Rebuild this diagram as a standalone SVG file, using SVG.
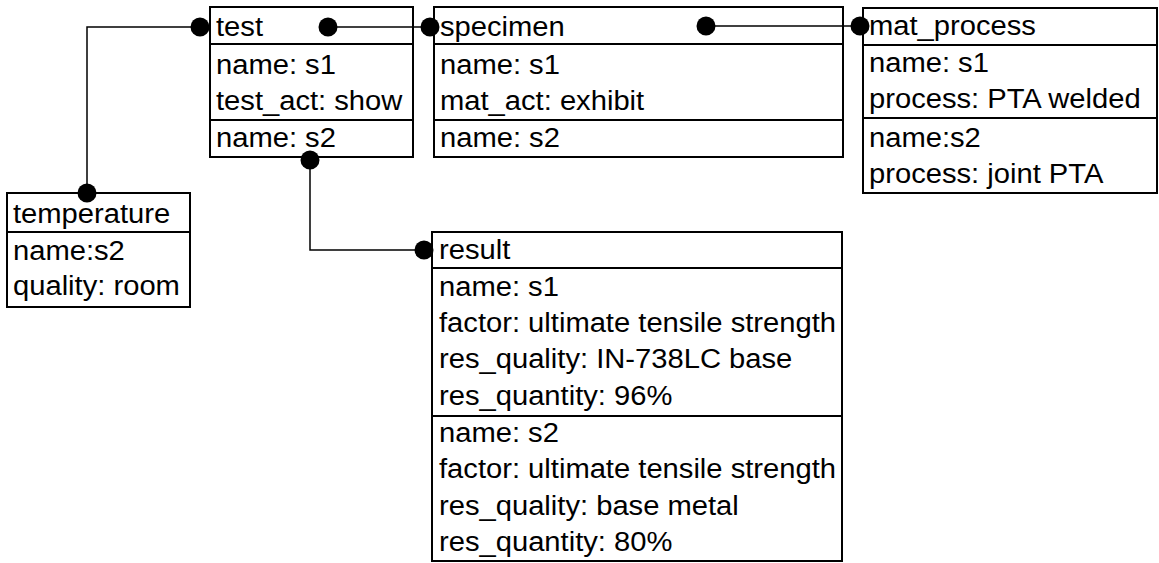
<svg xmlns="http://www.w3.org/2000/svg" width="1159" height="563" viewBox="0 0 1159 563">
<style>
.box{fill:#fff;stroke:#000;stroke-width:2}
.sep{stroke:#000;stroke-width:2}
text{font-family:"Liberation Sans",Arial,sans-serif;font-size:27px;fill:#000}
.wire{fill:none;stroke:#000;stroke-width:1.5}
.dot{fill:#000}
</style>
<rect width="1159" height="563" fill="#fff"/>
<g id="test">
<rect class="box" x="210" y="7" width="203" height="150"/>
<line class="sep" x1="210" y1="44" x2="413" y2="44"/>
<line class="sep" x1="210" y1="120" x2="413" y2="120"/>
<text transform="translate(216,36) scale(1.08,1)">test</text>
<text transform="translate(216,74) scale(1.08,1)">name: s1</text>
<text transform="translate(216,110) scale(1.08,1)">test_act: show</text>
<text transform="translate(216,147) scale(1.08,1)">name: s2</text>
</g>
<g id="specimen">
<rect class="box" x="434" y="7" width="409" height="150"/>
<line class="sep" x1="434" y1="44" x2="843" y2="44"/>
<line class="sep" x1="434" y1="120" x2="843" y2="120"/>
<text transform="translate(440,36) scale(1.08,1)">specimen</text>
<text transform="translate(440,74) scale(1.08,1)">name: s1</text>
<text transform="translate(440,110) scale(1.08,1)">mat_act: exhibit</text>
<text transform="translate(440,147) scale(1.08,1)">name: s2</text>
</g>
<g id="mat_process">
<rect class="box" x="863" y="8" width="294" height="185"/>
<line class="sep" x1="863" y1="45" x2="1157" y2="45"/>
<line class="sep" x1="863" y1="118" x2="1157" y2="118"/>
<text transform="translate(869,35) scale(1.08,1)">mat_process</text>
<text transform="translate(869,72) scale(1.08,1)">name: s1</text>
<text transform="translate(869,108) scale(1.08,1)">process: PTA welded</text>
<text transform="translate(869,147) scale(1.08,1)">name:s2</text>
<text transform="translate(869,183) scale(1.08,1)">process: joint PTA</text>
</g>
<g id="temperature">
<rect class="box" x="7" y="193" width="183" height="114"/>
<line class="sep" x1="7" y1="232" x2="190" y2="232"/>
<text transform="translate(13,223) scale(1.08,1)">temperature</text>
<text transform="translate(13,260) scale(1.08,1)">name:s2</text>
<text transform="translate(13,295) scale(1.08,1)">quality: room</text>
</g>
<g id="result">
<rect class="box" x="432" y="232" width="410" height="329"/>
<line class="sep" x1="432" y1="268" x2="842" y2="268"/>
<line class="sep" x1="432" y1="416" x2="842" y2="416"/>
<text transform="translate(439,259) scale(1.08,1)">result</text>
<text transform="translate(439,296) scale(1.08,1)">name: s1</text>
<text transform="translate(439,332) scale(1.08,1)">factor: ultimate tensile strength</text>
<text transform="translate(439,368) scale(1.08,1)">res_quality: IN-738LC base</text>
<text transform="translate(439,405) scale(1.08,1)">res_quantity: 96%</text>
<text transform="translate(439,442) scale(1.08,1)">name: s2</text>
<text transform="translate(439,478) scale(1.08,1)">factor: ultimate tensile strength</text>
<text transform="translate(439,515) scale(1.08,1)">res_quality: base metal</text>
<text transform="translate(439,551) scale(1.08,1)">res_quantity: 80%</text>
</g>
<g id="connectors">
<path class="wire" d="M200,27 H87 V193"/>
<path class="wire" d="M328,27 H430"/>
<path class="wire" d="M706,26 H860"/>
<path class="wire" d="M310,160 V250 H424"/>
<circle class="dot" cx="200" cy="27" r="9.5"/>
<circle class="dot" cx="87" cy="193" r="9.5"/>
<circle class="dot" cx="328" cy="27" r="9.5"/>
<circle class="dot" cx="430" cy="27" r="9.5"/>
<circle class="dot" cx="706" cy="26" r="9.5"/>
<circle class="dot" cx="860" cy="26" r="9.5"/>
<circle class="dot" cx="310" cy="160" r="9.5"/>
<circle class="dot" cx="424" cy="250" r="9.5"/>
</g>
</svg>
